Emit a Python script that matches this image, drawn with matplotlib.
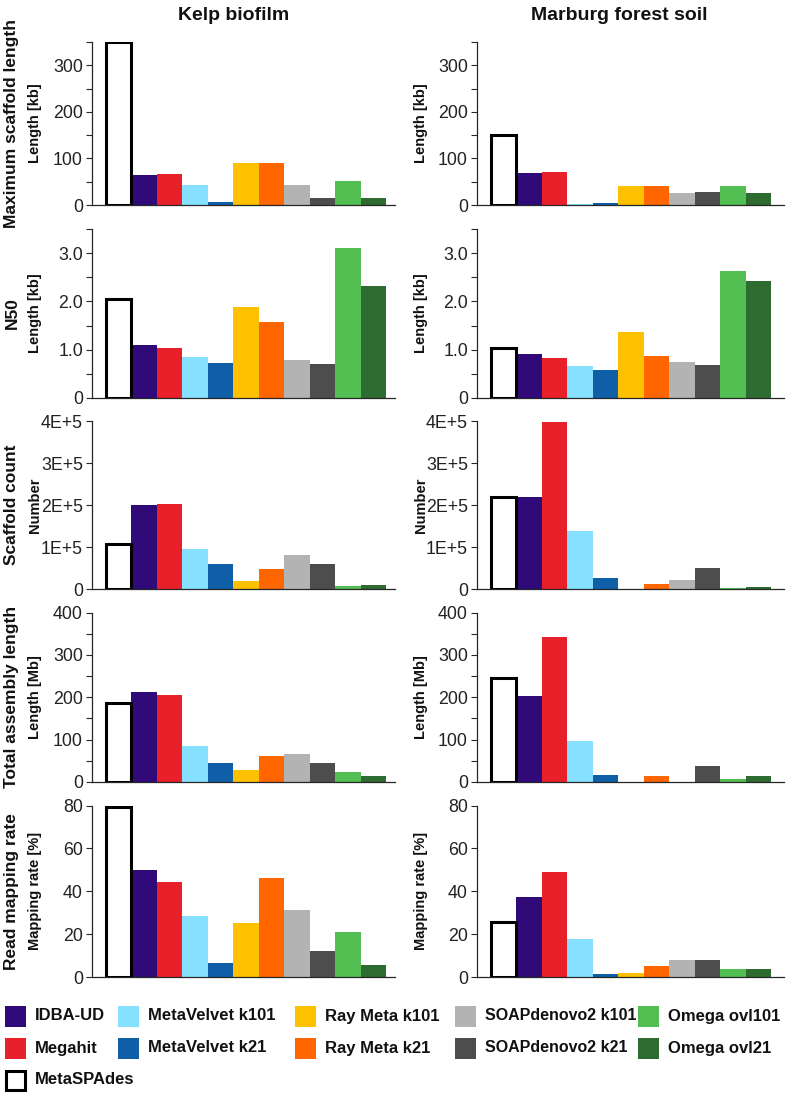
import matplotlib
matplotlib.use("Agg")
import matplotlib.pyplot as plt
from matplotlib.patches import Rectangle
from matplotlib.ticker import FixedLocator, FuncFormatter

plt.rcParams['font.family'] = ['Liberation Sans', 'DejaVu Sans']

# ---------------- data ----------------
methods = ["MetaSPAdes", "IDBA-UD", "Megahit", "MetaVelvet k101", "MetaVelvet k21",
           "Ray Meta k101", "Ray Meta k21", "SOAPdenovo2 k101", "SOAPdenovo2 k21",
           "Omega ovl101", "Omega ovl21"]
colors = ["white", "#2f0a78", "#e8202a", "#85e1ff", "#0f5ea8",
          "#ffc000", "#ff6600", "#b3b3b3", "#4d4d4d", "#53bf53", "#2e6b30"]

datasets = ["Kelp biofilm", "Marburg forest soil"]

kelp_max_scaffold = [350, 64, 67, 44, 6, 91, 91, 44, 14, 52, 16]
soil_max_scaffold = [151, 69, 71, 3, 4, 41, 41, 26, 28, 40, 26]

kelp_n50 = [2.04, 1.10, 1.04, 0.84, 0.72, 1.88, 1.58, 0.78, 0.71, 3.11, 2.31]
soil_n50 = [1.03, 0.92, 0.82, 0.66, 0.59, 1.37, 0.88, 0.75, 0.68, 2.62, 2.43]

kelp_scaffold_count = [1.07e5, 2.00e5, 2.02e5, 0.96e5, 0.59e5, 0.18e5, 0.47e5, 0.80e5, 0.59e5, 0.08e5, 0.10e5]
soil_scaffold_count = [2.19e5, 2.18e5, 3.98e5, 1.38e5, 0.26e5, 0.01e5, 0.13e5, 0.22e5, 0.49e5, 0.02e5, 0.05e5]

kelp_total_length = [186, 212, 205, 84, 45, 29, 62, 67, 44, 24, 15]
soil_total_length = [246, 204, 343, 96, 17, 1, 13, 0.5, 37, 6, 13]

kelp_mapping_rate = [79.4, 50.0, 44.1, 28.5, 6.5, 25.4, 46.3, 31.3, 12.0, 20.9, 5.6]
soil_mapping_rate = [25.6, 37.1, 49.1, 17.9, 1.6, 2.0, 5.1, 7.9, 8.0, 3.6, 3.9]

row_titles = ["Maximum scaffold length", "N50", "Scaffold count",
              "Total assembly length", "Read mapping rate"]
unit_labels = ["Length [kb]", "Length [kb]", "Number", "Length [Mb]", "Mapping rate [%]"]
ylims = [350, 3.5, 4e5, 400, 80]
major_ticks = [[0, 100, 200, 300], [0, 1, 2, 3], [0, 1e5, 2e5, 3e5, 4e5],
               [0, 100, 200, 300, 400], [0, 20, 40, 60, 80]]
minor_ticks = [[50, 150, 250, 350], [0.5, 1.5, 2.5, 3.5], [], [50, 150, 250, 350], []]

rows_data = [(kelp_max_scaffold, soil_max_scaffold), (kelp_n50, soil_n50),
             (kelp_scaffold_count, soil_scaffold_count), (kelp_total_length, soil_total_length),
             (kelp_mapping_rate, soil_mapping_rate)]


def fmt_factory(r):
    def f(v, pos):
        if v == 0:
            return "0"
        if r == 1:
            return f"{v:.1f}"
        if r == 2:
            return f"{int(round(v / 1e5))}E+5"
        return f"{int(v)}"
    return f


# ---------------- layout ----------------
W, H = 790, 1093
fig = plt.figure(figsize=(W / 100, H / 100), dpi=100)

col_x = [(92, 395), (477, 784)]
col_xlim = [(-1.05, 10.85), (-1.05, 11.0)]
row_y = [(42, 205), (229, 398), (421, 589), (612.5, 782), (805.5, 977)]
spine_color = "#262626"

for r in range(5):
    for c in range(2):
        x0, x1 = col_x[c]
        y0, y1 = row_y[r]
        ax = fig.add_axes([x0 / W, 1 - y1 / H, (x1 - x0) / W, (y1 - y0) / H])
        vals = rows_data[r][c]
        xs = list(range(len(methods)))
        for i, (v, col) in enumerate(zip(vals, colors)):
            if i == 0:
                ax.bar(xs[i], v, width=1.0, color="white", edgecolor="black",
                       linewidth=2.2, zorder=3)
            else:
                ax.bar(xs[i], v, width=1.0, color=col, edgecolor="none", zorder=2)
        ax.set_xlim(*col_xlim[c])
        ax.set_ylim(0, ylims[r])
        for s in ["top", "right"]:
            ax.spines[s].set_visible(False)
        ax.spines["left"].set_color(spine_color)
        ax.spines["bottom"].set_color(spine_color)
        ax.spines["left"].set_linewidth(0.9)
        ax.spines["bottom"].set_linewidth(0.9)
        ax.set_xticks([])
        ax.yaxis.set_major_locator(FixedLocator(major_ticks[r]))
        ax.yaxis.set_minor_locator(FixedLocator(minor_ticks[r]))
        ax.yaxis.set_major_formatter(FuncFormatter(fmt_factory(r)))
        ax.tick_params(axis="y", which="both", direction="out", length=4.5,
                       width=0.8, color=spine_color, labelsize=12.8,
                       labelcolor="#222222", pad=2)
        yc = 1 - (y0 + y1) / 2 / H
        if c == 0:
            fig.text(35 / W, yc, unit_labels[r], rotation=90, ha="center", va="center",
                     fontsize=10.5, fontweight="bold", color="#111111")
            fig.text(12 / W, yc, row_titles[r], rotation=90, ha="center", va="center",
                     fontsize=12.5, fontweight="bold", color="#111111")
        else:
            fig.text(421 / W, yc, unit_labels[r], rotation=90, ha="center", va="center",
                     fontsize=10.5, fontweight="bold", color="#111111")

# column titles
fig.text(234 / W, 1 - 15 / H, datasets[0], ha="center", va="center",
         fontsize=14, fontweight="bold", color="#111111")
fig.text(619 / W, 1 - 15 / H, datasets[1], ha="center", va="center",
         fontsize=14, fontweight="bold", color="#111111")

# legend (manual layout)
legend_cols = [[1, 2, 0], [3, 4], [5, 6], [7, 8], [9, 10]]
legend_x = [5, 118, 295, 455, 638]
legend_y = [1016, 1048, 1080]
ps = 21
for ci, items in enumerate(legend_cols):
    for ri, idx in enumerate(items):
        px = legend_x[ci]
        py = legend_y[ri]
        if idx == 0:
            rect = Rectangle(((px + 1) / W, 1 - (py + ps / 2 - 1) / H), (ps - 2) / W, (ps - 2) / H,
                             facecolor="white", edgecolor="black", linewidth=2.2,
                             transform=fig.transFigure)
        else:
            rect = Rectangle((px / W, 1 - (py + ps / 2) / H), ps / W, ps / H,
                             facecolor=colors[idx], edgecolor="none",
                             transform=fig.transFigure)
        fig.add_artist(rect)
        fig.text((px + 30) / W, 1 - py / H, methods[idx], ha="left", va="center",
                 fontsize=11.5 if ci == 3 else 12, fontweight="bold", color="#111111")

fig.savefig("out.png", dpi=100)
